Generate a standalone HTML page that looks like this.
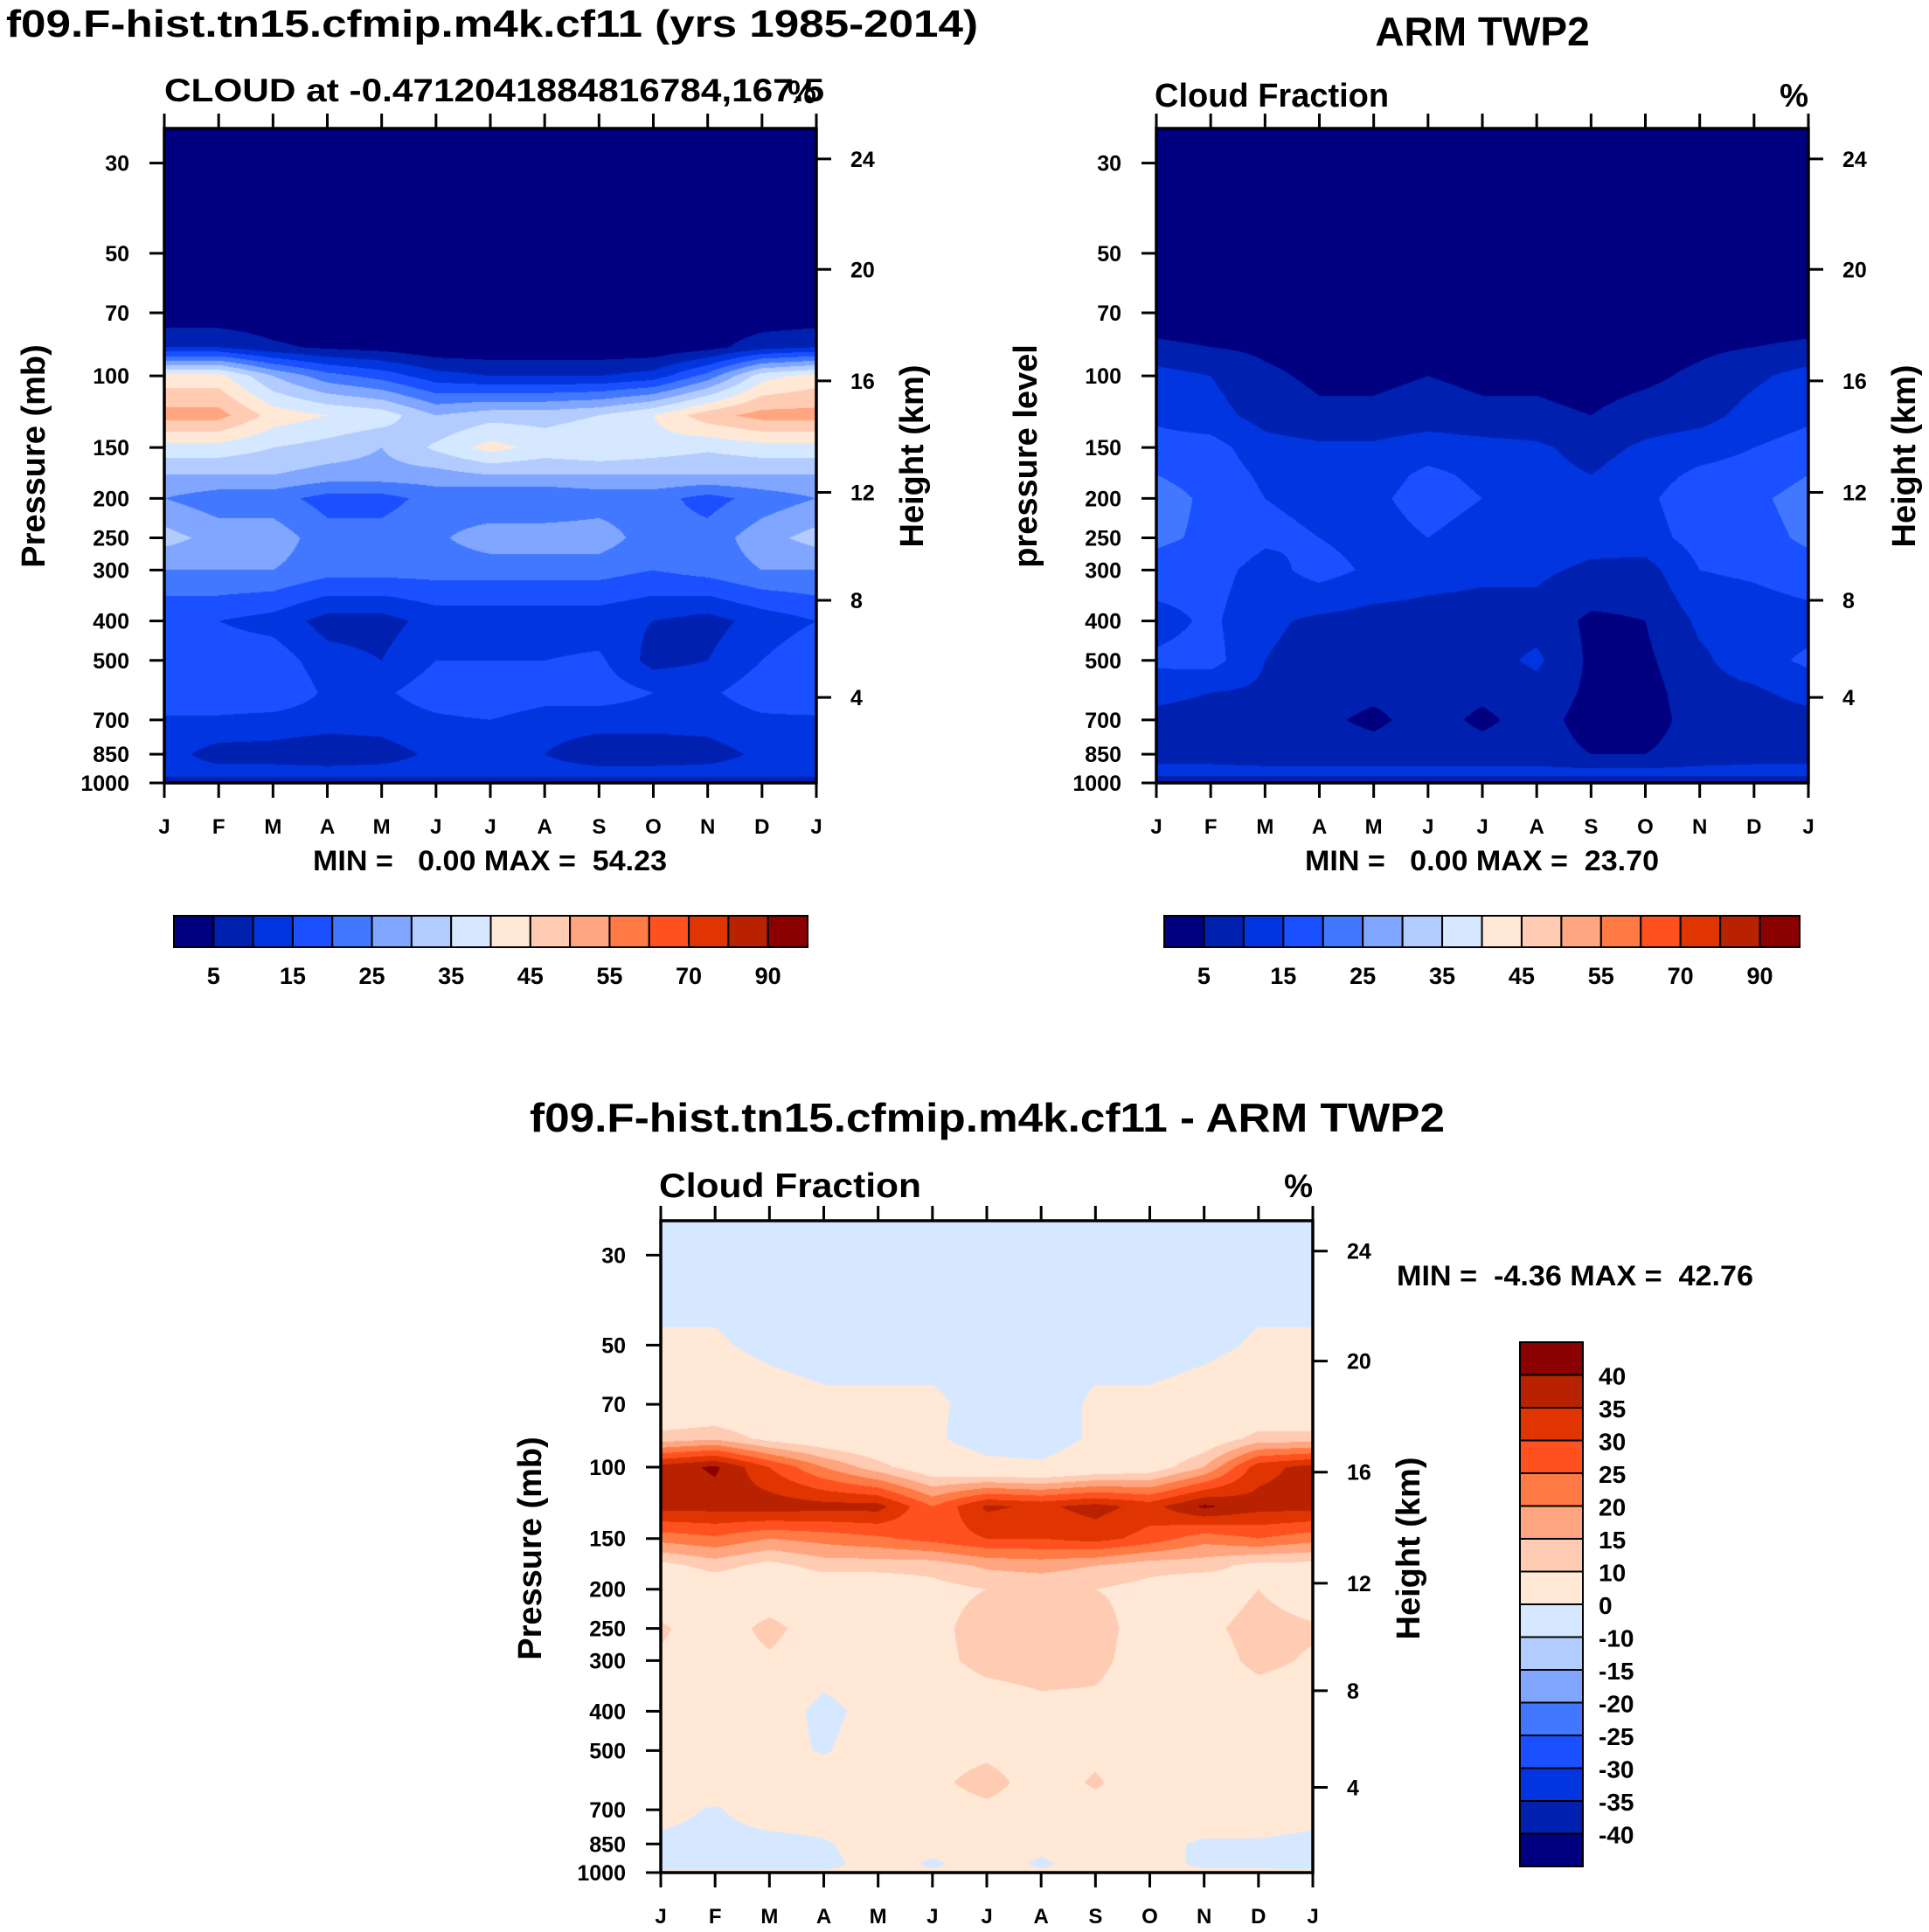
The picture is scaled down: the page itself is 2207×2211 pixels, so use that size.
<!DOCTYPE html>
<html><head><meta charset="utf-8"><style>
body{margin:0;background:#fff;}
#wrap{position:relative;width:2207px;height:2211px;overflow:hidden;background:#fff;}
canvas{position:absolute;}
svg{position:absolute;left:0;top:0;}
text{font-family:"Liberation Sans",sans-serif;font-weight:bold;fill:#000;white-space:pre;}
</style></head><body>
<div id="wrap">
<canvas id="c1"></canvas>
<canvas id="c2"></canvas>
<canvas id="c3"></canvas>
<svg id="s" width="2207" height="2211"></svg>
</div>
<script>
const months=["J","F","M","A","M","J","J","A","S","O","N","D","J"];
const pressureLevels=[24,30,50,70,85,100,125,150,175,200,250,300,400,500,600,700,850,950,1000];
const pressureTicks=[30,50,70,100,150,200,250,300,400,500,700,850,1000];
const heightTicks=[4,8,12,16,20,24];
const cloudLevels=[5,10,15,20,25,30,35,40,45,50,55,60,70,80,90];
const cloudLabels=["5","15","25","35","45","55","70","90"];
const diffLevels=[-40,-35,-30,-25,-20,-15,-10,0,10,15,20,25,30,35,40];
const diffLabels=["40","35","30","25","20","15","10","0","-10","-15","-20","-25","-30","-35","-40"];
const colors=["#000080","#0020b0","#0035e0","#1a50ff","#4278ff","#80a6ff","#b3ccff","#d6e8ff","#ffe8d6","#ffcbb3","#ffa680","#ff7a45","#ff5020","#e03500","#b82200","#8b0000"];
const modelCloud=[
[0,0,0,0,0,0,0,0,0,0,0,0],
[0,0,0,0,0,0,0,0,0,0,0,0],
[0,0,0,0,0,0,0,0,0,0,0,0],
[1,1,1,1,1,1,1,1,1,1,1,1],
[10,10,6,4,3,1,1,1,1,1,3,8],
[42,42,30,22,18,12,10,10,10,12,22,38],
[52,52,43,40,38,30,33,33,35,40,48,52],
[38,38,35,33,30,36,42,38,40,38,36,38],
[30,30,30,28,28,28,30,30,30,30,30,30],
[25,22,22,18,18,22,20,20,22,22,18,22],
[32,28,28,22,22,24,28,28,28,22,22,28],
[25,25,25,22,22,22,22,22,22,20,22,25],
[15,15,13,8,8,12,12,12,12,10,8,12],
[19,18,18,12,10,15,15,15,16,8,10,15],
[20,20,20,14,14,18,20,18,18,15,14,18],
[14,14,13,12,12,14,15,12,12,12,12,14],
[12,8,8,7,8,11,12,10,7,7,8,11],
[12,12,12,12,12,12,12,12,12,12,12,12],
[5,5,5,5,5,5,5,5,5,5,5,5]];
const armCloud=[
[0,0,0,0,0,0,0,0,0,0,0,0],
[0,0,0,0,0,0,0,0,0,0,0,0],
[0,0,0,0,0,0,0,0,0,0,0,0],
[2,2,2,2,2,2,2,2,2,2,2,2],
[6,5,4,3,3,3,3,3,3,3,4,5],
[12,10,6,4,4,5,4,4,3,4,6,9],
[14,12,8,6,6,7,6,6,5,7,8,12],
[17,17,12,11,11,13,12,11,8,11,13,15],
[20,18,14,13,13,16,14,12,10,13,16,17],
[22,19,15,14,14,17,15,13,12,14,18,19],
[21,19,16,15,13,15,13,13,12,13,17,18],
[18,17,13,17,14,12,11,11,9,8,15,16],
[13,16,11,9,8,8,8,8,4,5,11,12],
[16,17,10,8,8,8,8,11,4,4,9,13],
[12,10,9,7,6,7,6,8,4,3,8,9],
[8,7,7,6,4,7,4,7,3,3,7,7],
[8,8,7,7,7,7,7,7,5,5,7,8],
[12,12,12,12,12,12,12,12,12,12,12,12],
[3,3,3,3,3,3,3,3,3,3,3,3]];
const diffCloud=[
[-2,-2,-2,-2,-2,-2,-2,-2,-2,-2,-2,-2],
[-2,-2,-2,-2,-2,-2,-2,-2,-2,-2,-2,-2],
[0.5,0.5,-1,-2,-2,-2,-2,-2,-2,-2,-1,0.5],
[3,3,2,1,1,1,-2,-3,1,1,2,3],
[12,14,8,5,3,1,-3,-3,1,2,5,12],
[37,41,30,20,12,5,2,1,4,6,15,33],
[37,37,38,37,37,25,36,34,37,33,41,37],
[22,24,20,22,24,27,30,30,32,28,22,25],
[8,12,8,12,12,12,16,17,15,12,12,8],
[5,5,5,5,5,8,10,11,10,8,5,10],
[11,6,12,6,5,8,13,12,13,6,8,13],
[9,6,9,5,6,8,12,13,12,6,6,12],
[5,3,6,-3,4,6,6,8,8,5,4,5],
[6,5,4,-1,6,7,8,6,8,4,6,7],
[6,6,5,7,6,8,13,6,11,5,7,9],
[3,-1,5,5,6,6,8,6,7,5,5,5],
[-2,-3,-3,-1,4,3,3,2,3,2,-1,-1],
[-2,-2,-3,-2,3,-1,3,-1,3,2,-1,-1],
[1,1,1,1,1,1,1,1,1,1,1,1]];

const NS="http://www.w3.org/2000/svg";
const svg=document.getElementById('s');
const PT=24.67, LR=Math.log10(1000/PT);
function yOf(p,pl){return pl.top+(Math.log10(p/PT))/LR*pl.h;}
function xOf(m,pl){return pl.left+m/12*pl.w;}
function zToP(z){
  if(z<=11) return 1013.25*Math.pow(1-0.0065*z*1000/288.15,5.2559);
  if(z<=20) return 226.32*Math.exp(-(z-11)*1000/6341.6);
  return 54.75*Math.pow(1+0.001*(z-20)*1000/216.65,-34.163);
}
function el(tag,attrs,txt,parent){const e=document.createElementNS(NS,tag);for(const k in attrs)e.setAttribute(k,attrs[k]);if(txt!==undefined)e.textContent=txt;(parent||svg).appendChild(e);return e;}
function binOf(v,levels){let b=0;for(const l of levels){if(v>=l)b++;}return b;}

function drawContour(cid,pl,data,levels){
  const c=document.getElementById(cid);
  c.width=pl.w;c.height=pl.h;c.style.left=pl.left+'px';c.style.top=pl.top+'px';
  const ctx=c.getContext('2d');
  const img=ctx.createImageData(pl.w,pl.h);
  const rgb=colors.map(h=>[parseInt(h.slice(1,3),16),parseInt(h.slice(3,5),16),parseInt(h.slice(5,7),16)]);
  const lp=pressureLevels.map(p=>Math.log10(p));
  for(let j=0;j<pl.h;j++){
    const p=Math.log10(PT)+(j+0.5)/pl.h*LR;
    let r=0;while(r<lp.length-2&&lp[r+1]<p)r++;
    let t=(p-lp[r])/(lp[r+1]-lp[r]);t=Math.max(0,Math.min(1,t));
    for(let i=0;i<pl.w;i++){
      const m=(i+0.5)/pl.w*12;let k=Math.min(11,Math.floor(m));const s=m-k;
      const k2=(k+1)%12;
      const a=data[r][k]*(1-s)+data[r][k2]*s;
      const b=data[r+1][k]*(1-s)+data[r+1][k2]*s;
      const v=a*(1-t)+b*t;
      const col=rgb[binOf(v,levels)];
      const o=(j*pl.w+i)*4;img.data[o]=col[0];img.data[o+1]=col[1];img.data[o+2]=col[2];img.data[o+3]=255;
    }
  }
  ctx.putImageData(img,0,0);
}

function drawAxes(pl,name,yTitle){
  const g=el('g',{});
  
  
  el('rect',{x:pl.left,y:pl.top,width:pl.w,height:pl.h,fill:'none',stroke:'#000','stroke-width':3.5},undefined,g);
  months.forEach((mn,i)=>{
    const x=xOf(i,pl);
    el('line',{x1:x,x2:x,y1:pl.top,y2:pl.top-17,stroke:'#000','stroke-width':3},undefined,g);
    el('line',{x1:x,x2:x,y1:pl.top+pl.h,y2:pl.top+pl.h+17,stroke:'#000','stroke-width':3},undefined,g);
    const t=el('text',{x:x,y:pl.top+pl.h+58,'text-anchor':'middle','font-size':24},mn,g);
    
    
  });
  pressureTicks.forEach(p=>{
    const y=yOf(p,pl);
    el('line',{x1:pl.left-17,x2:pl.left,y1:y,y2:y,stroke:'#000','stroke-width':3},undefined,g);
    const t=el('text',{x:pl.left-40,y:y+9,'text-anchor':'end','font-size':25},String(p),g);
    
    
  });
  heightTicks.forEach(z=>{
    const y=yOf(zToP(z),pl);
    el('line',{x1:pl.left+pl.w,x2:pl.left+pl.w+17,y1:y,y2:y,stroke:'#000','stroke-width':3},undefined,g);
    const t=el('text',{x:pl.left+pl.w+39,y:y+9,'font-size':25},String(z),g);
    
    
  });
  const yt=el('text',{x:0,y:0,'text-anchor':'middle','font-size':38,transform:`translate(${pl.left-137},${pl.top+375}) rotate(-90)`},yTitle,g);
  
  
  const ht=el('text',{x:0,y:0,'text-anchor':'middle','font-size':38,transform:`translate(${pl.left+pl.w+122},${pl.top+375}) rotate(-90)`},'Height (km)',g);
  
  
}

function hColorbar(x,y,w,h,name){
  const g=el('g',{});
  
  
  const bw=w/colors.length;
  colors.forEach((c,i)=>{
    const r=el('rect',{x:x+i*bw,y:y,width:bw,height:h,fill:c,stroke:'#000','stroke-width':2},undefined,g);
    
    
  });
  cloudLabels.forEach((l,i)=>{
    const t=el('text',{x:x+(1+2*i)*bw,y:y+h+42,'text-anchor':'middle','font-size':27},l,g);
    
    
  });
}

const pl1={left:188,top:147,w:746,h:749};
const pl2={left:1323,top:147,w:746,h:749};
const pl3={left:756,top:1397,w:746,h:746};
drawContour('c1',pl1,modelCloud,cloudLevels);
drawContour('c2',pl2,armCloud,cloudLevels);
drawContour('c3',pl3,diffCloud,diffLevels);
drawAxes(pl1,'model-panel','Pressure (mb)');
drawAxes(pl2,'arm-panel','pressure level');
drawAxes(pl3,'difference-panel','Pressure (mb)');

function txt(x,y,s,size,name,extra){const t=el('text',Object.assign({x:x,y:y,'font-size':size},extra||{}),s);return t;}
txt(7,42,'f09.F-hist.tn15.cfmip.m4k.cf11 (yrs 1985-2014)',44,'model-title',{textLength:1112,lengthAdjust:'spacingAndGlyphs'});
txt(1696,52,'ARM TWP2',46,'arm-title',{'text-anchor':'middle'});
txt(188,116,'CLOUD at -0.4712041884816784,167.5',37,'model-subtitle',{textLength:755,lengthAdjust:'spacingAndGlyphs'});
txt(934,118,'%',37,'model-units',{'text-anchor':'end'});
txt(1321,122,'Cloud Fraction',38,'arm-subtitle');
txt(2069,122,'%',37,'arm-units',{'text-anchor':'end'});
txt(358,996,'MIN =   0.00 MAX =  54.23',32,'model-minmax',{textLength:405,lengthAdjust:'spacingAndGlyphs'});
txt(1493,996,'MIN =   0.00 MAX =  23.70',32,'arm-minmax',{textLength:405,lengthAdjust:'spacingAndGlyphs'});
hColorbar(199,1048,725,36,'model-colorbar');
hColorbar(1332,1048,727,36,'arm-colorbar');
txt(606,1295,'f09.F-hist.tn15.cfmip.m4k.cf11 - ARM TWP2',46,'difference-title',{textLength:1047,lengthAdjust:'spacingAndGlyphs'});
txt(754,1370,'Cloud Fraction',39,'difference-subtitle',{textLength:300,lengthAdjust:'spacingAndGlyphs'});
txt(1502,1370,'%',37,'difference-units',{'text-anchor':'end'});
txt(1598,1471,'MIN =  -4.36 MAX =  42.76',32,'difference-minmax',{textLength:408,lengthAdjust:'spacingAndGlyphs'});
(function(){
  const g=el('g',{});
  
  
  const x=1739,y=1536,w=72,h=600,bh=h/colors.length;
  colors.slice().reverse().forEach((c,i)=>{
    const r=el('rect',{x:x,y:y+i*bh,width:w,height:bh,fill:c,stroke:'#000','stroke-width':2},undefined,g);
    
    
  });
  diffLabels.forEach((l,i)=>{
    const t=el('text',{x:x+w+18,y:y+(i+1)*bh+11,'font-size':28},l,g);
    
    
  });
})();
</script>
</body></html>
